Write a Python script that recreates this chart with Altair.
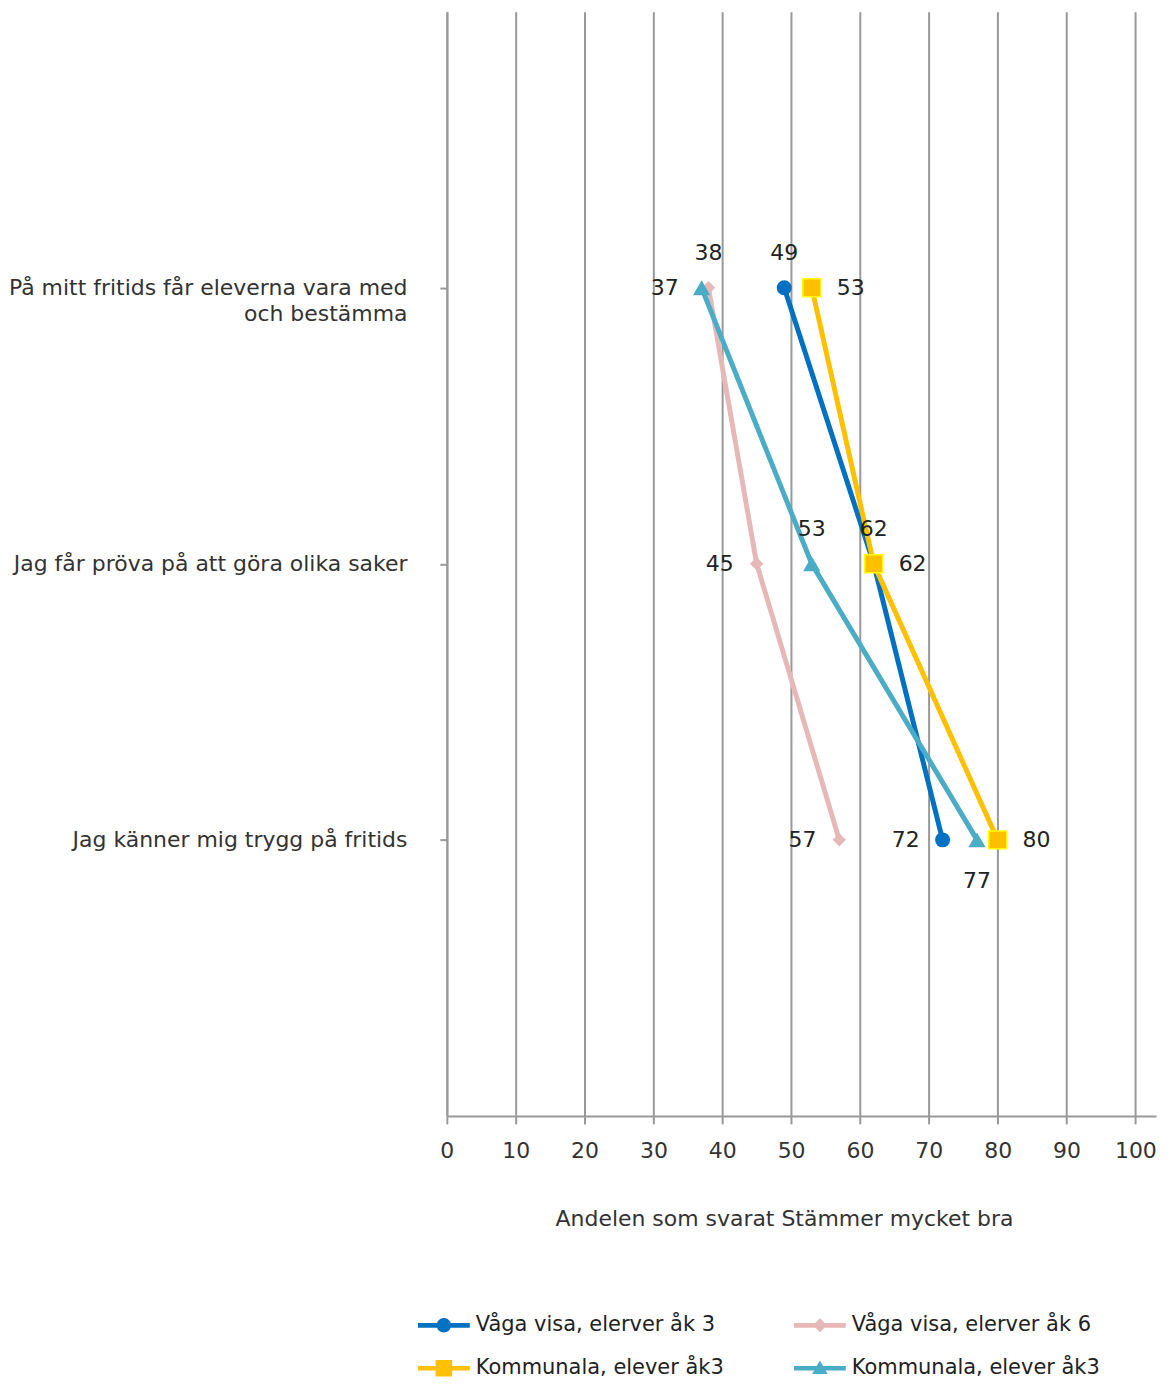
import altair as alt
import pandas as pd

# ---------------- data ----------------
CATEGORIES = [
    "På mitt fritids får eleverna vara med och bestämma",
    "Jag får pröva på att göra olika saker",
    "Jag känner mig trygg på fritids",
]
SERIES = [
    "Våga visa, elerver åk 3",
    "Våga visa, elerver åk 6",
    "Kommunala, elever åk3",
    "Kommunala, elever åk3",
]
VAGA_AK3 = [49, 62, 72]
VAGA_AK6 = [38, 45, 57]
KOMM_AK3_A = [53, 62, 80]
KOMM_AK3_B = [37, 53, 77]
X_TICKS = [0, 10, 20, 30, 40, 50, 60, 70, 80, 90, 100]

# ---------------- styles ----------------
KEYS = ["s0", "s1", "s2", "s3"]
COLORS = ["#0070C0", "#E6B9B8", "#FFC000", "#4BACC6"]
MARKERS = [
    dict(shape="circle", size=225),
    dict(shape="diamond", size=180),
    dict(shape="square", size=324, stroke="#FFFF00", strokeWidth=1.5),
    dict(shape="triangle-up", size=300),
]
LEGEND_PATHS = [
    "M-1,-0.09L1,-0.09L1,0.09L-1,0.09Z M-0.28,0A0.28,0.28 0 1,1 0.28,0A0.28,0.28 0 1,1 -0.28,0Z",
    "M-1,-0.09L1,-0.09L1,0.09L-1,0.09Z M0,-0.27L0.27,0L0,0.27L-0.27,0Z",
    "M-1,-0.09L1,-0.09L1,0.09L-1,0.09Z M-0.32,-0.32L0.32,-0.32L0.32,0.32L-0.32,0.32Z",
    "M-1,-0.09L1,-0.09L1,0.09L-1,0.09Z M0,-0.3L0.3,0.22L-0.3,0.22Z",
]
# label placement per series / category
PLACEMENT = [
    ["above", "above", "left"],
    ["above", "left", "left"],
    ["right", "right", "right"],
    ["left", "above", "below"],
]
OFFSETS = {
    "above": dict(dx=0, dy=-35, align="center"),
    "left": dict(dx=-23, dy=0, align="right"),
    "right": dict(dx=25, dy=0, align="left"),
    "below": dict(dx=0, dy=41, align="center"),
}
FONT = "DejaVu Sans"

rows = []
for k, vals, place in zip(KEYS, [VAGA_AK3, VAGA_AK6, KOMM_AK3_A, KOMM_AK3_B], PLACEMENT):
    for i, (c, v, p) in enumerate(zip(CATEGORIES, vals, place)):
        rows.append(dict(key=k, cat=c, idx=i, value=v, pos=p))
df = pd.DataFrame(rows)

color_scale = alt.Scale(domain=KEYS, range=COLORS)
x_enc = alt.X(
    "value:Q",
    scale=alt.Scale(domain=[0, 103], nice=False),
    axis=alt.Axis(
        values=X_TICKS,
        title="Andelen som svarat Stämmer mycket bra",
        titleX=338,
        titleY=103,
        titleAlign="center",
        titleBaseline="middle",
        titleFontWeight="normal",
        titleFontSize=22,
        titleColor="#333333",
        labelFontSize=22,
        labelColor="#333333",
        labelPadding=17,
        tickSize=8,
        tickWidth=2,
        tickColor="#999999",
        domainColor="#999999",
        domainWidth=2,
        grid=True,
        gridColor="#999999",
        gridWidth=2,
        labelFlush=False,
    ),
)

wrap_expr = (
    f"datum.label == '{CATEGORIES[0]}' ? "
    "['På mitt fritids får eleverna vara med', 'och bestämma'] : datum.label"
)
y_enc = alt.Y(
    "cat:N",
    sort=CATEGORIES,
    scale=alt.Scale(type="point", padding=1, domain=CATEGORIES),
    axis=alt.Axis(
        title=None,
        labelExpr=wrap_expr,
        labelFontSize=22,
        labelColor="#333333",
        labelLineHeight=26,
        labelPadding=33,
        labelLimit=450,
        tickSize=7,
        tickWidth=2,
        tickColor="#999999",
        domainColor="#999999",
        domainWidth=2,
        grid=False,
        minExtent=439,
        maxExtent=439,
    ),
)

base = alt.Chart(df)

legend_def = alt.Legend(
    title=None,
    orient="none",
    legendX=-29,
    legendY=1291,
    columns=2,
    direction="horizontal",
    columnPadding=70,
    rowPadding=7,
    symbolSize=2704,
    symbolOpacity=1,
    symbolStrokeWidth=0,
    labelExpr=" : ".join(
        f"datum.value == '{k}' ? '{s}'" for k, s in zip(KEYS[:-1], SERIES[:-1])
    ) + f" : '{SERIES[-1]}'",
    labelFontSize=21,
    labelColor="#222222",
    labelOffset=6,
    labelLimit=400,
)

carrier = base.mark_point(filled=True, opacity=0).encode(
    x=x_enc, y=y_enc,
    color=alt.Color("key:N", scale=color_scale, legend=legend_def),
    shape=alt.Shape("key:N", scale=alt.Scale(domain=KEYS, range=LEGEND_PATHS), legend=legend_def),
)

lines = base.mark_line(strokeWidth=5).encode(
    x=x_enc, y=y_enc,
    color=alt.Color("key:N", scale=color_scale, legend=legend_def),
    order=alt.Order("idx:Q"),
)

point_layers = []
for k, m in zip(KEYS, MARKERS):
    point_layers.append(
        base.transform_filter(alt.datum.key == k)
        .mark_point(filled=True, opacity=1, **m)
        .encode(x=x_enc, y=y_enc,
                color=alt.Color("key:N", scale=color_scale, legend=legend_def))
    )

text_layers = []
for p, o in OFFSETS.items():
    text_layers.append(
        base.transform_filter(alt.datum.pos == p)
        .mark_text(fontSize=22, color="#222222", baseline="middle", font=FONT, **o)
        .encode(x=x_enc, y=y_enc, text=alt.Text("value:Q"))
    )

chart = (
    alt.layer(carrier, lines, *point_layers, *text_layers)
    .properties(width=711, height=1107, padding={"left": 0, "top": 2, "right": 5, "bottom": 0})
    .configure(font=FONT)
    .configure_view(stroke=None)
    .configure_axis(labelFont=FONT, titleFont=FONT)
    .configure_legend(labelFont=FONT)
)

chart.save("out.html", embed_options={"renderer": "svg", "actions": False})
